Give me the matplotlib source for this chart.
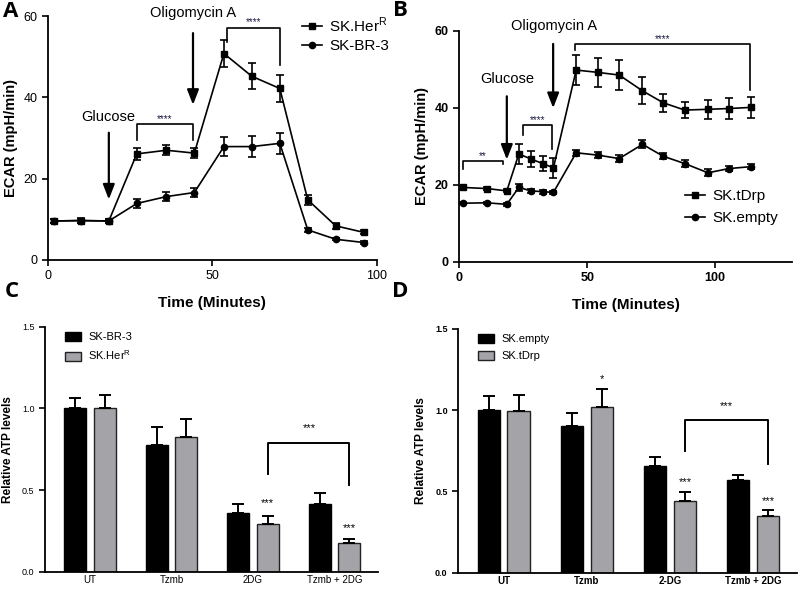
import numpy as np
import matplotlib
matplotlib.use("Agg")
import matplotlib.pyplot as plt
from matplotlib.lines import Line2D

plt.rcParams['font.family'] = ['Liberation Sans', 'DejaVu Sans']

# Panel A data (ECAR, SK.HerR vs SK-BR-3)
t_a = [1.7, 10, 18.5, 27, 36, 44.5, 53.5, 62, 70.5, 79, 87.5, 96]
her = [9.6, 9.7, 9.6, 26.1, 27.0, 26.3, 50.8, 45.2, 42.2, 14.8, 8.4, 6.8]
her_err = [0.5, 0.6, 0.6, 1.5, 1.2, 1.2, 3.3, 3.2, 3.4, 1.2, 0.7, 0.5]
br3 = [9.6, 9.7, 9.6, 13.9, 15.6, 16.6, 27.9, 27.9, 28.7, 7.4, 5.1, 4.3]
br3_err = [0.5, 0.5, 0.5, 1.2, 1.2, 1.0, 2.4, 2.5, 2.6, 0.4, 0.3, 0.3]

# Panel B data (ECAR, SK.tDrp vs SK.empty)
t_b = [1.3, 10.9, 18.6, 23.3, 28, 32.6, 36.8, 45.7, 54.1, 62.5, 71.6, 79.7, 88.1, 97.2, 105.3, 114]
tdrp = [19.3, 19.0, 18.4, 28.0, 26.7, 25.5, 24.4, 49.8, 49.2, 48.5, 44.4, 41.3, 39.4, 39.6, 39.8, 40.1]
tdrp_err = [0.4, 0.3, 0.4, 2.5, 2.0, 2.0, 2.6, 3.8, 3.8, 4.0, 3.5, 2.3, 2.0, 2.5, 2.7, 2.8]
empty = [15.2, 15.3, 14.9, 19.3, 18.4, 18.2, 18.0, 28.3, 27.7, 26.8, 30.5, 27.4, 25.5, 23.1, 24.2, 24.7]
empty_err = [0.3, 0.3, 0.3, 0.8, 0.5, 0.5, 0.5, 0.8, 0.8, 0.9, 1.0, 0.8, 0.8, 0.9, 0.7, 0.7]

# Panel C data (relative ATP)
cats_c = ['UT', 'Tzmb', '2DG', 'Tzmb + 2DG']
c_black = [1.0, 0.776, 0.361, 0.414]
c_black_err = [0.065, 0.11, 0.053, 0.065]
c_grey = [1.0, 0.827, 0.29, 0.173]
c_grey_err = [0.08, 0.11, 0.05, 0.025]

# Panel D data
cats_d = ['UT', 'Tzmb', '2-DG', 'Tzmb + 2DG']
d_black = [1.0, 0.904, 0.657, 0.571]
d_black_err = [0.085, 0.078, 0.054, 0.027]
d_grey = [0.995, 1.019, 0.442, 0.349]
d_grey_err = [0.097, 0.11, 0.055, 0.037]

GREY = '#a4a4a8'

fig = plt.figure(figsize=(8, 5.89), dpi=100)
axA = fig.add_axes([0.06, 0.5586, 0.411, 0.414])
axB = fig.add_axes([0.574, 0.5557, 0.416, 0.392])
axC = fig.add_axes([0.05625, 0.0294, 0.416, 0.416])
axD = fig.add_axes([0.5725, 0.0277, 0.424, 0.414])


def style_axes(ax, bold=False):
    for s in ['top', 'right']:
        ax.spines[s].set_visible(False)
    for s in ['left', 'bottom']:
        ax.spines[s].set_linewidth(1.3)
    ax.tick_params(width=1.2, length=4, direction='out')
    if bold:
        for lab in ax.get_xticklabels() + ax.get_yticklabels():
            lab.set_fontweight('bold')


def bracket(ax, x1, x2, top, l1, l2, stars, fs=7, lw=1.2):
    ax.plot([x1, x1, x2, x2], [l1, top, top, l2], color='black', lw=lw, clip_on=False)
    ax.text((x1 + x2) / 2, top, stars, ha='center', va='bottom', fontsize=fs, color='#1a1a40')


def arrow(ax, x, y0, y1):
    ax.annotate('', xy=(x, y1), xytext=(x, y0),
                arrowprops=dict(arrowstyle='-|>,head_width=0.35,head_length=0.9',
                                color='black', lw=1.6), annotation_clip=False)


def line_handles(labels):
    return [Line2D([], [], color='black', marker='s', ms=5, lw=1.2, label=labels[0]),
            Line2D([], [], color='black', marker='o', ms=4.5, lw=1.2, label=labels[1])]


# ---- Panel A ----
axA.errorbar(t_a, her, yerr=her_err, color='black', marker='s', ms=5, lw=1.2,
             capsize=3, elinewidth=1.2, capthick=1.2)
axA.errorbar(t_a, br3, yerr=br3_err, color='black', marker='o', ms=4.5, lw=1.2,
             capsize=3, elinewidth=1.2, capthick=1.2)
axA.set_xlim(0, 100)
axA.set_ylim(0, 60)
axA.set_xticks([0, 50, 100])
axA.set_yticks([0, 20, 40, 60])
axA.tick_params(labelsize=9)
axA.set_xlabel('Time (Minutes)', fontsize=11, fontweight='bold', labelpad=10)
axA.set_ylabel('ECAR (mpH/min)', fontsize=10.5, fontweight='bold')
style_axes(axA)
axA.text(18.4, 35.2, 'Glucose', ha='center', va='center', fontsize=10.5)
arrow(axA, 18.5, 32, 14.2)
axA.text(44, 60.8, 'Oligomycin A', ha='center', va='center', fontsize=10.5)
arrow(axA, 44.1, 56.5, 37.5)
bracket(axA, 27, 44.1, 33.4, 29.5, 29.5, '****')
bracket(axA, 54.5, 70.5, 57.2, 53.7, 47.9, '****')
axA.legend(handles=line_handles([r'SK.Her$^\mathregular{R}$', 'SK-BR-3']),
           loc='upper right', bbox_to_anchor=(1.08, 1.06), frameon=False, fontsize=11,
           handlelength=1.3, handletextpad=0.5, labelspacing=0.3)

# ---- Panel B ----
axB.errorbar(t_b, tdrp, yerr=tdrp_err, color='black', marker='s', ms=5, lw=1.2,
             capsize=3, elinewidth=1.2, capthick=1.2)
axB.errorbar(t_b, empty, yerr=empty_err, color='black', marker='o', ms=4.5, lw=1.2,
             capsize=3, elinewidth=1.2, capthick=1.2)
axB.set_xlim(0, 130)
axB.set_ylim(0, 60)
axB.set_xticks([0, 50, 100])
axB.set_yticks([0, 20, 40, 60])
axB.tick_params(labelsize=9)
axB.set_xlabel('Time (Minutes)', fontsize=11, fontweight='bold', labelpad=10)
axB.set_ylabel('ECAR (mpH/min)', fontsize=10.5, fontweight='bold')
style_axes(axB, bold=True)
axB.text(18.6, 47.4, 'Glucose', ha='center', va='center', fontsize=10.5)
arrow(axB, 18.6, 43.7, 25.8)
axB.text(37, 61.2, 'Oligomycin A', ha='center', va='center', fontsize=10.5)
arrow(axB, 36.7, 57.3, 39.2)
bracket(axB, 1.3, 17.3, 26.1, 24.2, 25.3, '**')
bracket(axB, 24.8, 36.4, 35.4, 32.9, 29.4, '****')
bracket(axB, 45.1, 113.6, 56.5, 55.0, 44.6, '****')
axB.legend(handles=line_handles(['SK.tDrp', 'SK.empty']),
           loc='lower right', bbox_to_anchor=(1.0, 0.1), frameon=False, fontsize=11,
           handlelength=1.3, handletextpad=0.5, labelspacing=0.5)


# ---- Bar panels ----
def bar_panel(ax, cats, black, black_err, grey, grey_err, labels, bold):
    x = np.arange(len(cats))
    w = 0.27
    off = 0.18
    zb = np.zeros(len(cats))
    ax.bar(x - off, black, w, color='black', edgecolor='black', lw=1, label=labels[0])
    ax.errorbar(x - off, black, yerr=[zb, black_err], fmt='none', ecolor='black',
                elinewidth=1.4, capsize=4, capthick=1.4)
    ax.bar(x + off, grey, w, color=GREY, edgecolor='#222222', lw=1, label=labels[1])
    ax.errorbar(x + off, grey, yerr=[zb, grey_err], fmt='none', ecolor='black',
                elinewidth=1.4, capsize=4, capthick=1.4)
    ax.set_xlim(-0.55, 3.53)
    ax.set_ylim(0, 1.5)
    ax.set_yticks([0, 0.5, 1.0, 1.5])
    ax.set_yticklabels(['0.0', '0.5', '1.0', '1.5'])
    ax.set_xticks(x)
    ax.set_xticklabels(cats)
    ax.tick_params(axis='y', labelsize=6.5)
    ax.set_ylabel('Relative ATP levels', fontsize=8.5, fontweight='bold', labelpad=6)
    style_axes(ax, bold=bold)
    ax.tick_params(axis='x', length=0, pad=2.5, labelsize=7)
    ax.legend(loc='upper left', bbox_to_anchor=(0.03, 1.02), frameon=False, fontsize=8,
              handlelength=1.4, handleheight=0.9, handletextpad=0.7, labelspacing=0.55)
    return x


xc = bar_panel(axC, cats_c, c_black, c_black_err, c_grey, c_grey_err,
               ['SK-BR-3', r'SK.Her$^\mathregular{R}$'], False)
axC.text(xc[2] + 0.18, 0.418, '***', ha='center', va='center', fontsize=8)
axC.text(xc[3] + 0.18, 0.265, '***', ha='center', va='center', fontsize=8)
axC.plot([xc[2] + 0.18, xc[2] + 0.18, xc[3] + 0.18, xc[3] + 0.18],
         [0.60, 0.786, 0.786, 0.53], color='black', lw=1.4)
axC.text(2.69, 0.878, '***', ha='center', va='center', fontsize=8)

xd = bar_panel(axD, cats_d, d_black, d_black_err, d_grey, d_grey_err,
               ['SK.empty', 'SK.tDrp'], True)
axD.text(xd[1] + 0.18, 1.19, '*', ha='center', va='center', fontsize=8)
axD.text(xd[2] + 0.18, 0.555, '***', ha='center', va='center', fontsize=8)
axD.text(xd[3] + 0.18, 0.44, '***', ha='center', va='center', fontsize=8)
axD.plot([xd[2] + 0.18, xd[2] + 0.18, xd[3] + 0.18, xd[3] + 0.18],
         [0.746, 0.94, 0.94, 0.67], color='black', lw=1.4)
axD.text(2.68, 1.023, '***', ha='center', va='center', fontsize=8)

# panel letters
for lab, (px, py) in zip('ABCD', [(3, 17), (393, 16), (5, 297), (392, 297)]):
    fig.text(px / 800, 1 - py / 589, lab, fontsize=16, fontweight='bold',
             family=['Open Sans', 'DejaVu Sans'], ha='left', va='baseline')

fig.savefig('out.png', dpi=100)
